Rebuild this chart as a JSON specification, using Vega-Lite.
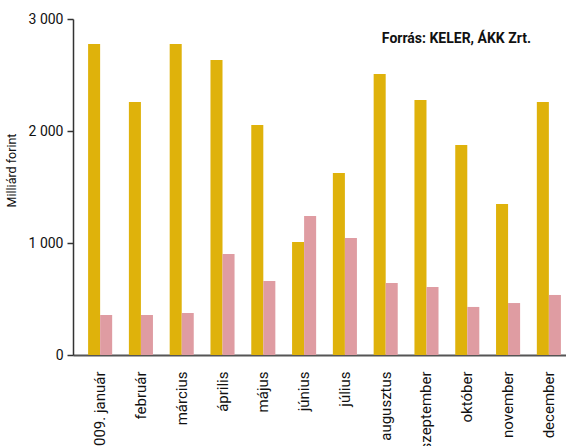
{
  "$schema": "https://vega.github.io/schema/vega-lite/v6.json",
  "width": 503,
  "height": 336,
  "autosize": {"type": "none"},
  "padding": {"left": 73, "top": 19, "right": 0, "bottom": 91},
  "background": "white",
  "config": {
    "view": {"stroke": null},
    "font": "Liberation Sans Narrow, Roboto, sans-serif"
  },
  "title": {
    "text": "Forrás:  KELER, ÁKK Zrt.",
    "anchor": "end",
    "frame": "group",
    "orient": "top",
    "fontSize": 14,
    "fontWeight": "bold",
    "color": "#111111",
    "dy": 38,
    "dx": -45,
    "font": "Liberation Sans Narrow, Roboto, sans-serif"
  },
  "data": {
    "values": [
      {"honap": "2009. január", "sorozat": "A", "ertek": 2777},
      {"honap": "2009. január", "sorozat": "B", "ertek": 357},
      {"honap": "február", "sorozat": "A", "ertek": 2259},
      {"honap": "február", "sorozat": "B", "ertek": 357},
      {"honap": "március", "sorozat": "A", "ertek": 2777},
      {"honap": "március", "sorozat": "B", "ertek": 375},
      {"honap": "április", "sorozat": "A", "ertek": 2634},
      {"honap": "április", "sorozat": "B", "ertek": 902},
      {"honap": "május", "sorozat": "A", "ertek": 2054},
      {"honap": "május", "sorozat": "B", "ertek": 661},
      {"honap": "június", "sorozat": "A", "ertek": 1009},
      {"honap": "június", "sorozat": "B", "ertek": 1241},
      {"honap": "július", "sorozat": "A", "ertek": 1625},
      {"honap": "július", "sorozat": "B", "ertek": 1045},
      {"honap": "augusztus", "sorozat": "A", "ertek": 2509},
      {"honap": "augusztus", "sorozat": "B", "ertek": 643},
      {"honap": "szeptember", "sorozat": "A", "ertek": 2277},
      {"honap": "szeptember", "sorozat": "B", "ertek": 607},
      {"honap": "október", "sorozat": "A", "ertek": 1875},
      {"honap": "október", "sorozat": "B", "ertek": 429},
      {"honap": "november", "sorozat": "A", "ertek": 1348},
      {"honap": "november", "sorozat": "B", "ertek": 464},
      {"honap": "december", "sorozat": "A", "ertek": 2259},
      {"honap": "december", "sorozat": "B", "ertek": 536}
    ]
  },
  "mark": {"type": "bar"},
  "encoding": {
    "x": {
      "field": "honap",
      "type": "nominal",
      "sort": null,
      "scale": {"paddingInner": 0.41, "paddingOuter": 0.37},
      "axis": {
        "title": null,
        "labelAngle": -90,
        "labelAlign": "right",
        "labelBaseline": "middle",
        "labelFontSize": 15,
        "labelColor": "#111111",
        "labelPadding": 16,
        "labelLimit": 200,
        "ticks": false,
        "domainColor": "#555555",
        "domainWidth": 2
      }
    },
    "y": {
      "field": "ertek",
      "type": "quantitative",
      "scale": {"domain": [0, 3000], "nice": false},
      "axis": {
        "title": "Milliárd forint",
        "titleFontSize": 12.5,
        "titleFontWeight": "normal",
        "titleColor": "#111111",
        "titlePadding": 10,
        "titleY": 151,
        "values": [0, 1000, 2000, 3000],
        "labelExpr": "replace(format(datum.value, ','), ',', ' ')",
        "labelFontSize": 14,
        "labelColor": "#111111",
        "labelPadding": 4,
        "grid": false,
        "tickSize": 6,
        "tickColor": "#333333",
        "tickWidth": 1.5,
        "domainColor": "#333333",
        "domainWidth": 1.5
      }
    },
    "xOffset": {"field": "sorozat", "type": "nominal"},
    "color": {
      "field": "sorozat",
      "type": "nominal",
      "scale": {"domain": ["A", "B"], "range": ["#dfb20b", "#df9ca2"]},
      "legend": null
    }
  }
}
